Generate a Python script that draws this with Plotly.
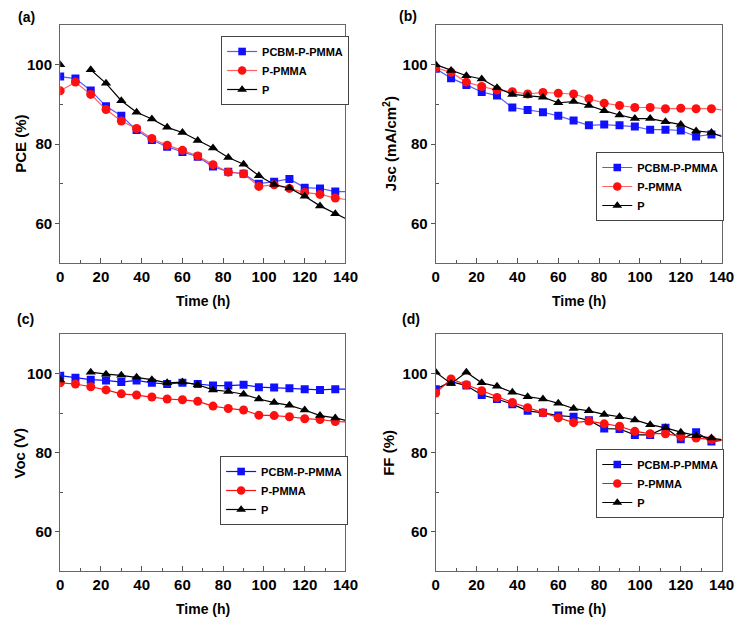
import plotly.graph_objects as go

# ---------------- data ----------------
time_markers = [0, 7.5, 15, 22.5, 30, 37.5, 45, 52.5, 60, 67.5, 75, 82.5, 90, 97.5, 105, 112.5, 120, 127.5, 135]
time_line = time_markers + [140]

# (a) PCE (%)
pce_pcbm = [97.0, 96.5, 93.5, 89.5, 87.1, 83.5, 81.0, 79.3, 78.0, 76.8, 74.3, 73.0, 72.5, 70.0, 70.5, 71.2, 69.0, 68.8, 68.0, 68.0]
pce_ppmma = [93.4, 95.6, 92.5, 88.7, 85.8, 83.9, 81.4, 79.7, 78.4, 77.0, 74.8, 72.9, 72.5, 69.3, 69.7, 68.8, 67.8, 67.3, 66.4, 66.0]
pce_p = [100.0, None, 98.7, 95.3, 90.9, 88.0, 86.3, 84.2, 82.9, 80.9, 79.0, 76.6, 74.9, 72.0, 69.8, 68.9, 66.8, 64.4, 62.4, 61.2]

# (b) Jsc
jsc_pcbm = [99.0, 96.6, 94.9, 93.1, 92.2, 89.2, 88.6, 88.0, 87.1, 85.9, 84.7, 84.9, 84.7, 84.4, 83.6, 83.6, 83.4, 81.9, 82.4, 82.2]
jsc_ppmma = [99.2, 98.1, 95.6, 94.5, 93.6, 93.2, 92.6, 93.0, 92.8, 92.6, 91.4, 90.3, 89.7, 89.2, 89.2, 88.9, 89.0, 88.9, 88.9, 88.6]
jsc_p = [100.0, 98.5, 97.2, 96.4, 94.2, 92.5, 92.2, 91.8, 90.4, 90.7, 89.7, 88.4, 87.3, 86.4, 86.4, 85.6, 84.9, 83.3, 82.9, 81.9]

# (c) Voc
voc_pcbm = [99.5, 99.0, 98.5, 98.3, 97.9, 98.3, 97.7, 97.4, 97.7, 97.4, 97.0, 97.0, 97.2, 96.6, 96.5, 96.3, 96.1, 95.9, 96.1, 96.1]
voc_ppmma = [97.7, 97.4, 96.7, 95.9, 94.9, 94.6, 94.1, 93.6, 93.4, 93.0, 91.8, 91.2, 90.8, 89.5, 89.4, 89.1, 88.6, 88.4, 87.9, 87.8]
voc_p = [98.4, None, 100.4, 99.9, 99.6, 99.1, 98.5, 97.7, 97.9, 97.2, 95.9, 95.5, 94.8, 93.6, 92.7, 92.0, 90.8, 89.4, 88.8, 88.2]

# (d) FF (%)
ff_pcbm = [96.1, 98.0, 97.0, 94.6, 93.6, 92.3, 90.6, 90.1, 89.4, 89.1, 88.2, 86.1, 86.0, 84.5, 84.5, 86.3, 83.4, 85.2, 82.8, 83.1]
ff_ppmma = [95.1, 98.7, 97.2, 95.7, 94.0, 92.7, 91.4, 90.1, 88.8, 87.6, 88.0, 87.3, 86.7, 85.4, 84.8, 84.8, 84.1, 83.7, 83.3, 83.1]
ff_p = [100.4, 97.5, 100.4, 97.7, 96.8, 95.3, 94.2, 93.6, 92.5, 91.2, 90.6, 89.7, 89.1, 88.3, 87.1, 86.3, 85.2, 84.3, 83.7, 83.3]

series_names = ["PCBM-P-PMMA", "P-PMMA", "P"]
panel_labels = ["(a)", "(b)", "(c)", "(d)"]
y_titles = ["PCE (%)", "Jsc (mA/cm<sup>2</sup>)", "Voc (V)", "FF (%)"]
x_title = "Time (h)"

panels = [
    [pce_pcbm, pce_ppmma, pce_p],
    [jsc_pcbm, jsc_ppmma, jsc_p],
    [voc_pcbm, voc_ppmma, voc_p],
    [ff_pcbm, ff_ppmma, ff_p],
]

# ---------------- styling / layout ----------------
OFF = 8  # page body margin of the html page
W, H = 749 - OFF, 622 - OFF
FONT = "Arial, Liberation Sans, sans-serif"


def px(xp):
    return (xp - OFF) / W


def py(yp):
    return 1 - (yp - OFF) / H


# plot-area pixel boxes in page coordinates: (left, right, top, bottom)
boxes = [
    (57.3, 349.3, 25, 263),
    (441.7, 734.3, 25, 263),
    (57.3, 349.3, 334.3, 571),
    (441.7, 734.3, 334.3, 571),
]
legend_pos = [(222, 36), (606, 152), (221, 456), (606, 449)]
ytitle_x = [16, 394, 16, 394]

marker_symbols = ["square", "circle", "triangle-up"]
marker_colors = ["#1010ff", "#ff1010", "#000000"]
line_colors_by_panel = [
    ["rgba(60,60,255,0.85)", "rgba(255,70,70,0.85)", "#000000"],
    ["rgba(60,60,255,0.85)", "rgba(255,70,70,0.85)", "#000000"],
    ["#1010ff", "#ff1010", "#000000"],
    ["#000000", "#ff1010", "#000000"],
]
marker_sizes = [8, 9, 9]

fig = go.Figure()

for i, vals in enumerate(panels):
    sfx = "" if i == 0 else str(i + 1)
    xa, ya = "x" + sfx, "y" + sfx
    leg = "legend" + sfx
    for j, v in enumerate(vals):
        fig.add_trace(go.Scatter(
            x=time_line, y=v, mode="lines+markers",
            xaxis=xa, yaxis=ya, legend=leg,
            name=series_names[j],
            line=dict(color=line_colors_by_panel[i][j], width=1.2),
            marker=dict(symbol=marker_symbols[j], color=marker_colors[j],
                        size=[marker_sizes[j]] * len(time_markers) + [0],
                        opacity=1, line=dict(width=0)),
            connectgaps=False,
            showlegend=True,
        ))

layout = dict(
    width=W, height=H,
    margin=dict(l=0, r=0, t=0, b=0),
    paper_bgcolor="white", plot_bgcolor="white",
    font=dict(family=FONT, color="black"),
    annotations=[],
)

for i, (l, r, t, b) in enumerate(boxes):
    sfx = "" if i == 0 else str(i + 1)
    layout["xaxis" + sfx] = dict(
        domain=[px(l), px(r)], anchor="y" + sfx, range=[0, 140],
        tickvals=[0, 20, 40, 60, 80, 100, 120, 140],
        ticks="inside", ticklen=5, tickcolor="#555",
        minor=dict(tickvals=[10, 30, 50, 70, 90, 110, 130], ticks="inside", ticklen=3, tickcolor="#555"),
        showline=True, linecolor="#666", linewidth=1.2, mirror=True,
        showgrid=False, zeroline=False,
        tickfont=dict(family=FONT, size=15, weight="bold"),
    )
    layout["yaxis" + sfx] = dict(
        domain=[py(b), py(t)], anchor="x" + sfx, range=[50, 110],
        tickvals=[60, 80, 100],
        ticks="outside", ticklen=4, tickcolor="#555",
        minor=dict(tickvals=[70, 90], ticks="inside", ticklen=3, tickcolor="#555"),
        showline=True, linecolor="#666", linewidth=1.2, mirror=True,
        showgrid=False, zeroline=False,
        tickfont=dict(family=FONT, size=15, weight="bold"),
    )
    lx, ly = legend_pos[i]
    layout["legend" + sfx] = dict(
        x=px(lx), y=py(ly), xanchor="left", yanchor="top",
        xref="paper", yref="paper",
        bgcolor="white", bordercolor="#444", borderwidth=1,
        font=dict(family=FONT, size=11, weight="bold"),
        tracegroupgap=0, itemwidth=30,
    )
    # y axis title
    layout["annotations"].append(dict(
        text=y_titles[i], x=px(ytitle_x[i]), y=py((t + b) / 2),
        xref="paper", yref="paper", showarrow=False, textangle=-90,
        xanchor="center", yanchor="middle",
        font=dict(family=FONT, size=15, weight="bold"),
    ))
    # x axis title
    layout["annotations"].append(dict(
        text=x_title, x=px((l + r) / 2), y=py(b + 38),
        xref="paper", yref="paper", showarrow=False,
        xanchor="center", yanchor="middle",
        font=dict(family=FONT, size=14, weight="bold"),
    ))

# panel labels
label_pos = [(23, 17), (413, 16), (22, 319), (416, 319)]
for (lpx, lpy), lab in zip(label_pos, panel_labels):
    layout["annotations"].append(dict(
        text=lab, x=px(lpx), y=py(lpy), xref="paper", yref="paper",
        showarrow=False, xanchor="center", yanchor="middle",
        font=dict(family=FONT, size=14, weight="bold"),
    ))

fig.update_layout(**layout)
fig.write_html("out.html")
